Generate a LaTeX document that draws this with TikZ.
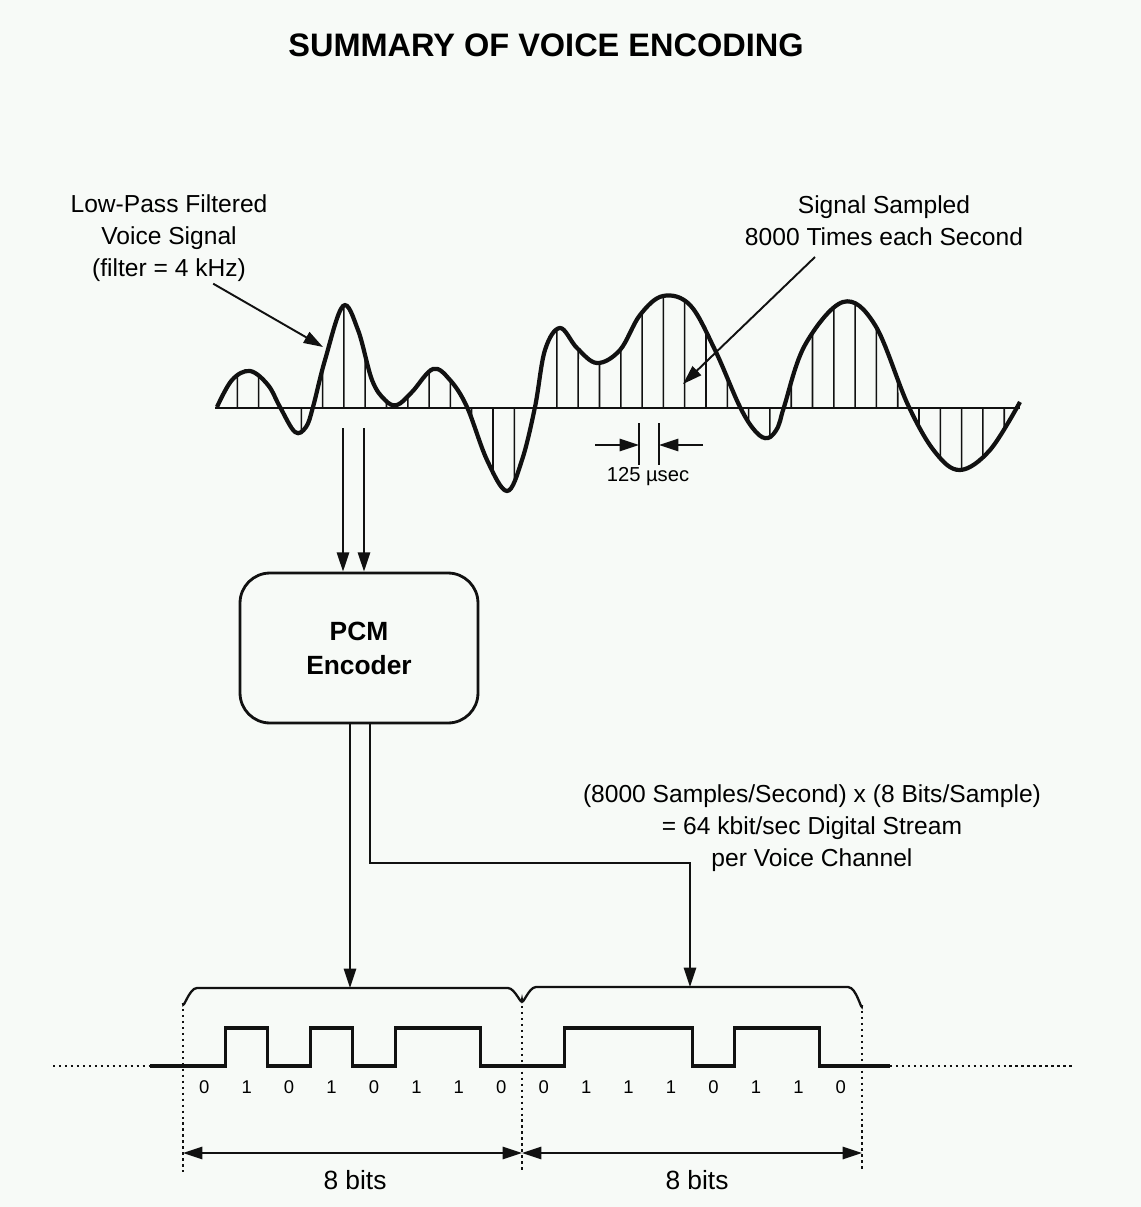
\documentclass[tikz,border=0pt]{standalone}
\usepackage{fontspec}
\setmainfont{Liberation Sans}
\usepackage{tikz}
\usetikzlibrary{arrows.meta, intersections, positioning}
\definecolor{paper}{HTML}{F7FAF7}
\definecolor{ink}{HTML}{111111}

\begin{document}
\begin{tikzpicture}[
    x=0.02cm, y=-0.02cm,
    ttl/.style    = {font=\fontsize{18.5}{22}\selectfont\bfseries},
    lbl/.style    = {align=center, inner sep=0pt, font=\fontsize{14}{18.4}\selectfont},
    encbox/.style = {draw=ink, line width=1.6pt, rounded corners=0.6cm,
                     minimum width=4.76cm, minimum height=3cm, align=center,
                     font=\fontsize{15}{19.3}\selectfont\bfseries},
    bitlbl/.style = {inner sep=0pt, font=\fontsize{10.5}{12}\selectfont},
    sig/.style    = {draw=ink, line width=2.4pt},
    sample/.style = {draw=ink, line width=0.9pt},
    pulse/.style  = {draw=ink, line width=1.8pt},
    guide/.style  = {draw=ink, dotted, line width=1.4pt},
    arr/.style    = {-{Triangle[length=11pt,width=7pt]}, draw=ink, line width=1.1pt},
    dim/.style    = {{Triangle[length=11pt,width=7pt]}-{Triangle[length=11pt,width=7pt]},
                     draw=ink, line width=1.1pt}
  ]

  % ── Page ─────────────────────────────────────────────────────────────────
  \fill[paper] (0,0) rectangle (1141,1207);
  \useasboundingbox (0,0) rectangle (1141,1207);

  \node[ttl] (title) at (546,45) {SUMMARY OF VOICE ENCODING};

  % ── Annotations ──────────────────────────────────────────────────────────
  \node[lbl] (lpf) at (169,238) {Low-Pass Filtered\\Voice Signal\\(filter = 4 kHz)};
  \node[lbl] (smp) at (884,221) {Signal Sampled\\8000 Times each Second};
  \node[lbl] (rate) at (812,828) {(8000 Samples/Second) x (8 Bits/Sample)\\= 64 kbit/sec Digital Stream\\per Voice Channel};

  % ── Analog signal ────────────────────────────────────────────────────────
  \draw[ink, line width=1.1pt] (215,408) -- (1020,408);
  \draw[sig, name path=wave] plot[smooth, tension=0.6] coordinates {
    (217,407) (232,380) (250,371) (268,385) (280,407) (295,432) (306,427)
    (313,407) (325,360) (343,306) (358,330) (372,380) (385,400) (397,405)
    (412,392) (433,369) (450,380) (467,407) (487,460) (507,491) (522,460)
    (535,407) (545,350) (560,328) (577,348) (597,363) (620,350) (640,315)
    (663,296) (690,305) (715,350) (740,407) (756,432) (768,438) (778,427)
    (784,407) (805,345) (843,302) (875,325) (908,405) (935,452) (960,470)
    (990,450) (1020,402)};

  % samples every 125 µs
  \foreach \k in {0,...,36} {
    \path[name path=probe] ({237.4+21.3*\k},250) -- ({237.4+21.3*\k},540);
    \draw[sample, name intersections={of=wave and probe}]
      ({237.4+21.3*\k},408) -- (intersection-1);
  }

  \node[lbl] (lpfTail) at (212,283) {};
  \coordinate (lpfTip) at (323,347);
  \draw[arr] (lpfTail) -- (lpfTip);
  \coordinate (smpTail) at (815,257);
  \coordinate (smpTip) at (683,384);
  \draw[arr] (smpTail) -- (smpTip);

  % 125 µsec interval
  \coordinate (tickL) at (639,445);
  \coordinate (tickR) at (659,445);
  \draw[ink, line width=1.1pt] (639,423) -- (639,465) (659,423) -- (659,465);
  \coordinate (intL) at (595,445);
  \coordinate (intR) at (703,445);
  \draw[arr] (intL) -- (tickL);
  \draw[arr] (intR) -- (tickR);
  \node[inner sep=0pt, font=\fontsize{11.5}{13}\selectfont] (usec) at (648,477) {125 µsec};

  % ── Encoder ──────────────────────────────────────────────────────────────
  \node[encbox] (enc) at (359,648) {PCM\\Encoder};
  \coordinate (tapA) at (343,428);
  \coordinate (tapB) at (364,428);
  \draw[arr] (tapA) -- (tapA |- enc.north);
  \draw[arr] (tapB) -- (tapB |- enc.north);

  % ── Byte brackets ────────────────────────────────────────────────────────
  \draw[ink, line width=1.3pt]
    (183,1003) to[out=-90,in=180] (197,988) -- (508,988) to[out=0,in=-90] (522,1000)
    to[out=-90,in=180] (536,987) -- (848,987) to[out=0,in=-90] (862,1005);
  \coordinate (brA) at (350,988);
  \coordinate (brB) at (690,987);
  \coordinate (bend) at (370,863);
  \draw[arr] (enc.south -| brA) -- (brA);
  \draw[arr] (enc.south -| bend) -- (bend) -| (brB);

  % ── Digital stream ───────────────────────────────────────────────────────
  \draw[guide] (183,1003) -- (183,1172);
  \draw[guide] (522,1000) -- (522,1172);
  \draw[guide] (862,1005) -- (862,1172);
  \draw[guide] (53,1066) -- (150,1066);
  \draw[guide] (890,1066) -- (1075,1066);
  \draw[pulse] (150,1066) -- (225.4,1066) -- (225.4,1028) -- (267.9,1028)
    -- (267.9,1066) -- (310.3,1066) -- (310.3,1028) -- (352.8,1028)
    -- (352.8,1066) -- (395.2,1066) -- (395.2,1028) -- (480.1,1028)
    -- (480.1,1066) -- (564.9,1066) -- (564.9,1028) -- (692.3,1028)
    -- (692.3,1066) -- (734.7,1066) -- (734.7,1028) -- (819.6,1028)
    -- (819.6,1066) -- (890,1066);
  \foreach \b [count=\i from 0] in {0,1,0,1,0,1,1,0,0,1,1,1,0,1,1,0}
    \node[bitlbl] (bit\i) at ({183+42.44*(\i+0.5)},1087) {\b};

  % ── Byte widths ──────────────────────────────────────────────────────────
  \coordinate (m0) at (183,1153);
  \coordinate (m1) at (522,1153);
  \coordinate (m2) at (862,1153);
  \draw[dim] (m0) -- (m1);
  \draw[dim] (m1) -- (m2);
  \node[lbl, font=\fontsize{15}{18}\selectfont] (byteA) at (355,1180) {8 bits};
  \node[lbl, font=\fontsize{15}{18}\selectfont] (byteB) at (697,1180) {8 bits};
\end{tikzpicture}
\end{document}
